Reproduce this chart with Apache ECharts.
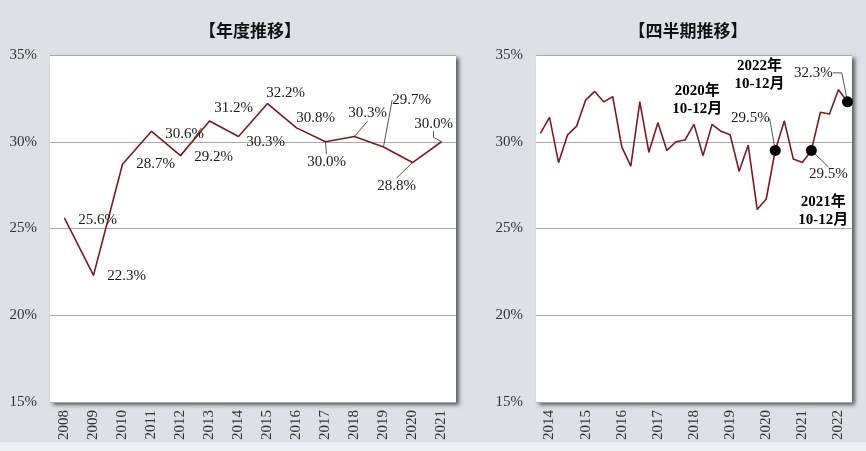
<!DOCTYPE html>
<html>
<head>
<meta charset="utf-8">
<script src="https://cdn.jsdelivr.net/npm/echarts@6/dist/echarts.min.js"></script>
<style>
  html, body { margin: 0; padding: 0; }
  #chart {
    width: 866px;
    height: 451px;
    background: linear-gradient(#dde1e6 0, #dde1e6 442px, #eef0f3 442px);
  }
</style>
</head>
<body>
<div id="chart"></div>
<script>
const yearCats = ['2008', '2009', '2010', '2011', '2012', '2013', '2014',
  '2015', '2016', '2017', '2018', '2019', '2020', '2021'];
const yearValues = [25.6, 22.3, 28.7, 30.6, 29.2, 31.2, 30.3, 32.2, 30.8, 30.0, 30.3, 29.7, 28.8, 30.0];

const quarterCats = [
  '2014Q2', '2014Q3', '2014Q4',
  '2015Q1', '2015Q2', '2015Q3', '2015Q4',
  '2016Q1', '2016Q2', '2016Q3', '2016Q4',
  '2017Q1', '2017Q2', '2017Q3', '2017Q4',
  '2018Q1', '2018Q2', '2018Q3', '2018Q4',
  '2019Q1', '2019Q2', '2019Q3', '2019Q4',
  '2020Q1', '2020Q2', '2020Q3', '2020Q4',
  '2021Q1', '2021Q2', '2021Q3', '2021Q4',
  '2022Q1', '2022Q2', '2022Q3', '2022Q4'
];
const quarterValues = [
  30.5, 31.4, 28.8,
  30.4, 30.9, 32.4, 32.9,
  32.3, 32.6, 29.7, 28.6,
  32.3, 29.4, 31.1, 29.5,
  30.0, 30.1, 31.0, 29.2,
  31.0, 30.6, 30.4, 28.3,
  29.8, 26.1, 26.7, 29.5,
  31.2, 29.0, 28.8, 29.5,
  31.7, 31.6, 33.0, 32.3
];
// highlighted quarters and their captions
const markQuarters = ['2020Q4', '2021Q4', '2022Q4'];
const markNames = ['2020年\n10-12月', '2021年\n10-12月', '2022年\n10-12月'];

const yTicks = [15, 20, 25, 30, 35];

// label offsets from the point, in px (layout only)
const yearLabelShift = [[33, 2], [33, 1], [33, 0], [33, 3], [33, 1], [24, -13], [27, 6],
  [18, -11], [19, -10], [1, 20], [13, -23], [28, -47], [-16, 23], [-8, -18]];
const yearLeader = [false, false, false, false, false, false, false,
  false, false, true, true, true, true, true];
const yearLeaderTail = [0, 0, 0, 0, 0, 0, 0, 0, 0, 0, 0, 0, 0, 6];
const markValueShift = [[-25, -32], [17, 24], [-34, -29]];
const markValueTail = [0, 0, 9];
const markNameShift = [[-78, -50], [12, 61], [-88, -27]];

const serif = '"Liberation Serif", "Times New Roman", "Noto Sans CJK JP", serif';
const lineColor = '#7b1b1f';
const leaderStyle = { color: '#555', width: 1 };

const chart = echarts.init(document.getElementById('chart'), null, { renderer: 'canvas' });

const markIdx = markQuarters.map((q) => quarterCats.indexOf(q));

function gridBox(left, width) {
  return {
    left, width, top: 55, height: 347,
    show: true,
    backgroundColor: '#ffffff',
    borderWidth: 0,
    shadowColor: 'rgba(0,0,0,0.6)',
    shadowBlur: 4,
    shadowOffsetX: 3,
    shadowOffsetY: 3
  };
}

function valueAxis(gridIndex) {
  return {
    type: 'value',
    gridIndex,
    min: yTicks[0],
    max: yTicks[yTicks.length - 1],
    interval: 5,
    axisLine: { show: false },
    axisTick: { show: false },
    axisLabel: {
      margin: 13,
      formatter: '{value}%',
      fontFamily: serif,
      fontSize: 15,
      color: '#333'
    },
    splitLine: { lineStyle: { color: '#a9a9a9', width: 1 } }
  };
}

function catAxis(gridIndex, data, interval) {
  return {
    type: 'category',
    gridIndex,
    data,
    boundaryGap: true,
    axisLine: { show: false },
    axisTick: { show: false },
    axisLabel: {
      rotate: 90,
      margin: 8,
      interval,
      formatter: (v) => v.slice(0, 4),
      fontFamily: serif,
      fontSize: 15,
      color: '#333'
    }
  };
}

const yearData = yearValues.map((v, i) => ({
  value: v,
  labelLine: { show: yearLeader[i], length2: yearLeaderTail[i], lineStyle: leaderStyle }
}));

const quarterData = quarterValues.map((v, i) => {
  const k = markIdx.indexOf(i);
  if (k < 0) return v;
  return {
    value: v,
    label: { show: true },
    labelLine: { show: true, length2: markValueTail[k], lineStyle: leaderStyle }
  };
});

const markData = markIdx.map((i) => [i, quarterValues[i]]);

chart.setOption({
  animation: false,
  title: [
    {
      text: '【年度推移】',
      left: 245,
      top: 17,
      textAlign: 'center',
      textStyle: { fontFamily: '"Noto Sans CJK JP"', fontSize: 17, fontWeight: 'bold', color: '#111' }
    },
    {
      text: '【四半期推移】',
      left: 683,
      top: 17,
      textAlign: 'center',
      textStyle: { fontFamily: '"Noto Sans CJK JP"', fontSize: 17, fontWeight: 'bold', color: '#111' }
    }
  ],
  grid: [gridBox(50, 406), gridBox(536, 316)],
  xAxis: [
    catAxis(0, yearCats, 0),
    catAxis(1, quarterCats, (i, v) => v.endsWith('Q3'))
  ],
  yAxis: [valueAxis(0), valueAxis(1)],
  series: [
    {
      type: 'line',
      xAxisIndex: 0,
      yAxisIndex: 0,
      data: yearData,
      symbol: 'circle',
      symbolSize: 1,
      showSymbol: true,
      itemStyle: { color: lineColor },
      lineStyle: { color: lineColor, width: 1.6 },
      label: {
        show: true,
        position: 'inside',
        formatter: (p) => p.value.toFixed(1) + '%',
        fontFamily: serif,
        fontSize: 15,
        color: '#1a1a1a'
      },
      labelLayout: (p) => ({ dx: yearLabelShift[p.dataIndex][0], dy: yearLabelShift[p.dataIndex][1] }),
      z: 3
    },
    {
      type: 'line',
      xAxisIndex: 1,
      yAxisIndex: 1,
      data: quarterData,
      symbol: 'circle',
      symbolSize: 1,
      showSymbol: true,
      itemStyle: { color: lineColor },
      lineStyle: { color: lineColor, width: 1.6 },
      label: {
        show: false,
        position: 'inside',
        formatter: (p) => p.value.toFixed(1) + '%',
        fontFamily: serif,
        fontSize: 15,
        color: '#1a1a1a'
      },
      labelLayout: (p) => {
        const k = markIdx.indexOf(p.dataIndex);
        if (k < 0) return {};
        return { dx: markValueShift[k][0], dy: markValueShift[k][1] };
      },
      z: 3
    },
    {
      type: 'scatter',
      xAxisIndex: 1,
      yAxisIndex: 1,
      data: markData,
      symbol: 'circle',
      symbolSize: 11,
      itemStyle: { color: '#000', opacity: 1 },
      label: {
        show: true,
        position: 'inside',
        formatter: (p) => markNames[p.dataIndex],
        fontFamily: serif,
        fontSize: 15,
        fontWeight: 'bold',
        lineHeight: 18,
        align: 'center',
        color: '#000',
        opacity: 1
      },
      labelLayout: (p) => ({ dx: markNameShift[p.dataIndex][0], dy: markNameShift[p.dataIndex][1] }),
      z: 4
    }
  ]
});
</script>
</body>
</html>
